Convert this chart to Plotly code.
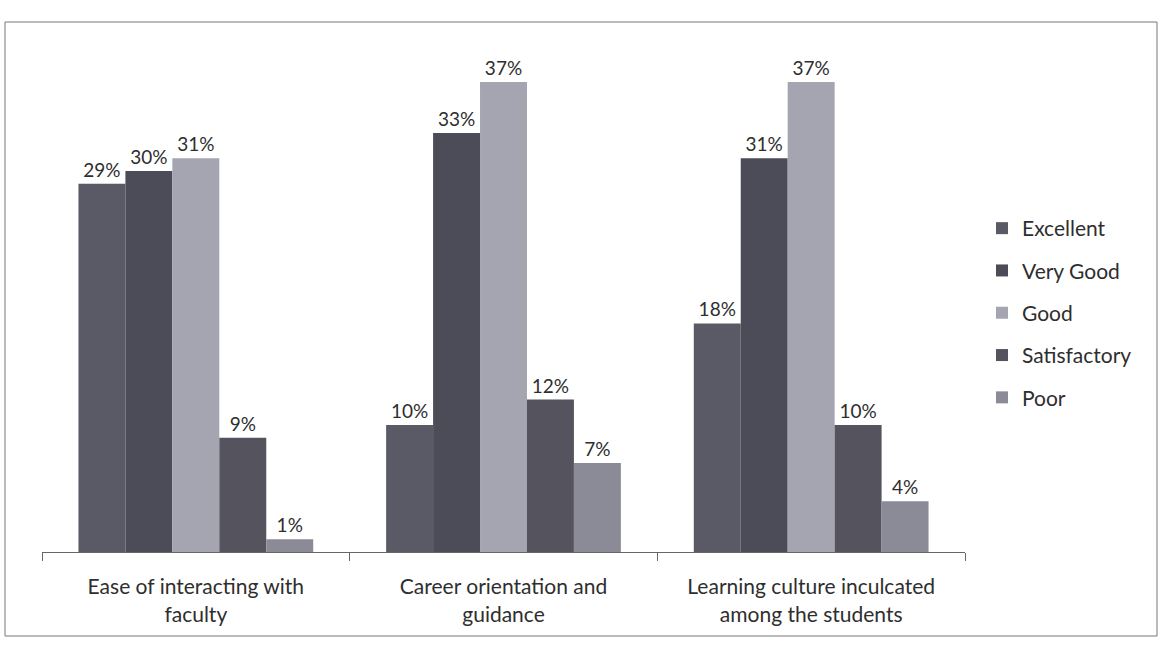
import plotly.graph_objects as go

# Survey aspects and response shares (%)
categories = [
    "Ease of interacting with<br>faculty",
    "Career orientation and<br>guidance",
    "Learning culture inculcated<br>among the students",
]
ratings = ["Excellent", "Very Good", "Good", "Satisfactory", "Poor"]
excellent = [29, 10, 18]
very_good = [30, 33, 31]
good = [31, 37, 37]
satisfactory = [9, 12, 10]
poor = [1, 7, 4]

series = [excellent, very_good, good, satisfactory, poor]
colors = ["#5a5a66", "#4c4c58", "#a5a4b1", "#54535e", "#8b8a97"]

FONT = "Lato, 'Open Sans', sans-serif"
TEXT_COLOR = "#2e2e2e"

fig = go.Figure()
for name, vals, col in zip(ratings, series, colors):
    fig.add_trace(go.Bar(
        x=categories,
        y=vals,
        name=name,
        legendgroup=name,
        marker=dict(color=col, line=dict(width=0)),
        text=[f"{v}%" for v in vals],
        textposition="outside",
        textfont=dict(family=FONT, size=19, color=TEXT_COLOR),
        cliponaxis=False,
    ))

L, R, T, B = 42, 195, 44, 94
W, H = 1160, 646
pw, ph = W - L - R, H - T - B


def px_x(p):
    return (p - L) / pw


def px_y(p):
    return (H - B - p) / ph


fig.update_layout(
    width=W,
    height=H,
    margin=dict(l=L, r=R, t=T, b=B),
    paper_bgcolor="white",
    plot_bgcolor="white",
    barmode="group",
    bargap=0.237,
    bargroupgap=0,
    font=dict(family=FONT, size=19, color=TEXT_COLOR),
    showlegend=True,
    legend=dict(
        x=px_x(982),
        y=px_y(313),
        xanchor="left",
        yanchor="middle",
        traceorder="grouped",
        tracegroupgap=12,
        font=dict(family=FONT, size=21, color=TEXT_COLOR),
        itemwidth=30,
        bgcolor="rgba(0,0,0,0)",
    ),
    xaxis=dict(
        showline=True,
        linecolor="#666",
        linewidth=1,
        ticks="outside",
        tickson="boundaries",
        ticklen=8,
        tickcolor="#666",
        ticklabelstandoff=16,
        tickfont=dict(family=FONT, size=21, color=TEXT_COLOR),
        showgrid=False,
    ),
    yaxis=dict(
        range=[0, 40],
        visible=False,
        showgrid=False,
    ),
    shapes=[
        dict(
            type="rect",
            xref="paper",
            yref="paper",
            x0=px_x(5),
            x1=px_x(1157),
            y0=px_y(636),
            y1=px_y(22),
            line=dict(color="#777", width=1),
            fillcolor="rgba(0,0,0,0)",
            layer="below",
        )
    ],
)

fig.write_html("out.html")
